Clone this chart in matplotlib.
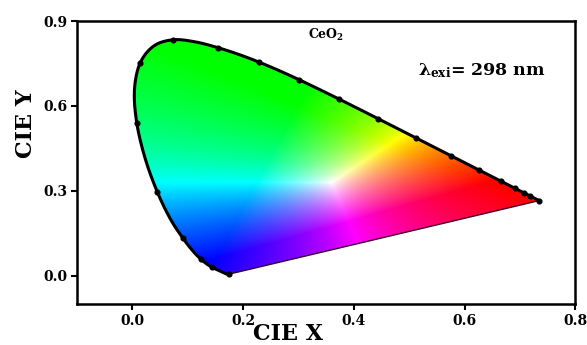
import numpy as np
import matplotlib
matplotlib.use('Agg')
import matplotlib.pyplot as plt
from matplotlib.path import Path
from matplotlib.patches import PathPatch

# CIE 1931 spectral locus (chromaticity x, y) as drawn
wavelengths = [380, 400, 420, 430, 440, 450, 455, 460, 465, 470, 475, 480, 485,
               490, 495, 500, 505, 510, 515, 520, 525, 530, 535, 540, 545, 550,
               555, 560, 565, 570, 575, 580, 585, 590, 595, 600, 605, 610, 615,
               620, 625, 630, 640, 650, 660, 680, 700]
locus_x = [0.1741, 0.1733, 0.1714, 0.1689, 0.1644, 0.1566, 0.1510, 0.1440, 0.1355,
           0.1241, 0.1096, 0.0913, 0.0687, 0.0454, 0.0235, 0.0082, 0.0039, 0.0139,
           0.0389, 0.0743, 0.1142, 0.1547, 0.1929, 0.2296, 0.2658, 0.3016, 0.3373,
           0.3731, 0.4087, 0.4441, 0.4788, 0.5125, 0.5448, 0.5752, 0.6029, 0.6270,
           0.6482, 0.6658, 0.6801, 0.6915, 0.7006, 0.7079, 0.7190, 0.7260, 0.7300,
           0.7334, 0.7347]
locus_y = [0.0050, 0.0048, 0.0051, 0.0069, 0.0109, 0.0177, 0.0227, 0.0297, 0.0399,
           0.0578, 0.0868, 0.1327, 0.2007, 0.2950, 0.4127, 0.5384, 0.6548, 0.7502,
           0.8120, 0.8338, 0.8262, 0.8059, 0.7816, 0.7543, 0.7243, 0.6923, 0.6589,
           0.6245, 0.5896, 0.5547, 0.5202, 0.4866, 0.4544, 0.4242, 0.3965, 0.3725,
           0.3514, 0.3340, 0.3197, 0.3083, 0.2993, 0.2920, 0.2809, 0.2740, 0.2700,
           0.2666, 0.2653]
marker_wl = [380, 460, 470, 480, 490, 500, 510, 520, 530, 540, 550, 560, 570,
             580, 590, 600, 610, 620, 630, 640, 700]
white_point = (0.36, 0.33)

x_ticks = [0.0, 0.2, 0.4, 0.6, 0.8]
y_ticks = [0.0, 0.3, 0.6, 0.9]
x_label = 'CIE X'
y_label = 'CIE Y'
sample_text = r'CeO$_\mathbf{2}$'
exc_text = r'$\lambda_{exi}$= 298 nm'

plt.rcParams['font.family'] = ['DejaVu Serif']
plt.rcParams['font.weight'] = 'bold'
plt.rcParams['mathtext.fontset'] = 'custom'
plt.rcParams['mathtext.rm'] = 'DejaVu Serif:bold'
plt.rcParams['mathtext.it'] = 'DejaVu Serif:bold'
plt.rcParams['mathtext.bf'] = 'DejaVu Serif:bold'


def catmull_rom(px, py, n=12):
    p = np.column_stack([px, py])
    p = np.vstack([2 * p[0] - p[1], p, 2 * p[-1] - p[-2]])
    out = []
    for i in range(1, len(p) - 2):
        p0, p1, p2, p3 = p[i - 1], p[i], p[i + 1], p[i + 2]
        t = np.linspace(0, 1, n, endpoint=False)[:, None]
        seg = 0.5 * ((2 * p1) + (-p0 + p2) * t + (2 * p0 - 5 * p1 + 4 * p2 - p3) * t ** 2
                     + (-p0 + 3 * p1 - 3 * p2 + p3) * t ** 3)
        out.append(seg)
    out.append(p[-2][None, :])
    out = np.vstack(out)
    return out[:, 0], out[:, 1]


sx, sy = catmull_rom(locus_x, locus_y)

fig = plt.figure(figsize=(5.87, 3.45), dpi=100)
ax = fig.add_axes([0.131, 0.119, 0.849, 0.820])
ax.set_xlim(-0.1, 0.8)
ax.set_ylim(-0.1, 0.9)

# colour field
M = np.array([[3.2406, -1.5372, -0.4986],
              [-0.9689, 1.8758, 0.0415],
              [0.0557, -0.2040, 1.0570]])


def xy_to_lin(x, y):
    y = np.maximum(y, 1e-4)
    xyz = np.stack([x / y, np.ones_like(x), (1 - x - y) / y], axis=-1)
    return xyz @ M.T


nx, ny = 500, 500
gx = np.linspace(0.0, 0.76, nx)
gy = np.linspace(0.0, 0.85, ny)
GX, GY = np.meshgrid(gx, gy)
rgb = xy_to_lin(GX, GY)
wp = xy_to_lin(np.array(white_point[0]), np.array(white_point[1]))
rgb = rgb / wp
rgb = np.clip(rgb, 0, None)
rgb = rgb / np.maximum(rgb.max(axis=-1, keepdims=True), 1e-9)
rgb = rgb ** 0.85
verts = np.column_stack([np.append(sx, sx[0]), np.append(sy, sy[0])])
path = Path(verts, closed=True)
patch = PathPatch(path, facecolor='none', edgecolor='none')
ax.add_patch(patch)
im = ax.imshow(rgb, origin='lower', extent=[gx[0], gx[-1], gy[0], gy[-1]],
               interpolation='bilinear', aspect='auto', zorder=1)
im.set_clip_path(patch)

ax.plot(sx, sy, color='black', lw=2.2, zorder=3, solid_capstyle='round')
ax.plot([locus_x[-1], locus_x[0]], [locus_y[-1], locus_y[0]], color='#3a0030',
        lw=1.0, zorder=3)
mk = [wavelengths.index(w) for w in marker_wl]
ax.plot([locus_x[i] for i in mk], [locus_y[i] for i in mk], 'o', color='black',
        ms=3.4, zorder=4)

ax.set_xticks(x_ticks)
ax.set_yticks(y_ticks)
ax.set_xticklabels([f'{v:.1f}' for v in x_ticks], fontsize=10, fontweight='bold')
ax.set_yticklabels([f'{v:.1f}' for v in y_ticks], fontsize=10, fontweight='bold')
ax.tick_params(direction='out', length=4, width=1.5, pad=3, top=False, right=False)
for s in ax.spines.values():
    s.set_linewidth(1.8)

ax.set_xlabel(x_label, fontsize=16, fontweight='bold')
ax.xaxis.label.set_va('baseline')
ax.xaxis.set_label_coords(0.424, -0.128)
ax.set_ylabel(y_label, fontsize=16, fontweight='bold')
ax.yaxis.set_label_coords(-0.08, 0.636)

ax.text(0.35, 0.85, sample_text, fontsize=9, fontweight='bold', ha='center', va='center')
ax.text(0.632, 0.725, exc_text, fontsize=12.5, fontweight='bold', ha='center', va='center')

fig.savefig('out.png', dpi=100)
